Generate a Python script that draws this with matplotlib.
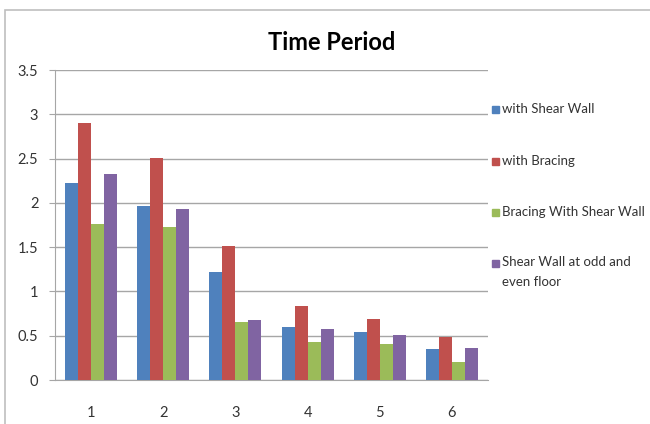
import numpy as np
import matplotlib
matplotlib.use("Agg")
from matplotlib import pyplot as plt
from matplotlib.patches import Rectangle

plt.rcParams['font.family'] = ['Lato', 'DejaVu Sans']

# data
categories = ["1", "2", "3", "4", "5", "6"]
shear_wall = [2.22, 1.97, 1.22, 0.60, 0.54, 0.35]
bracing = [2.90, 2.51, 1.51, 0.84, 0.69, 0.48]
bracing_shear = [1.76, 1.73, 0.66, 0.43, 0.41, 0.20]
odd_even = [2.33, 1.93, 0.68, 0.58, 0.51, 0.36]
series_labels = ["with Shear Wall", "with Bracing", "Bracing With Shear Wall",
                 "Shear Wall at odd and\neven floor"]
y_ticks = [0, 0.5, 1, 1.5, 2, 2.5, 3, 3.5]
y_tick_labels = ["0", "0.5", "1", "1.5", "2", "2.5", "3", "3.5"]

colors = ["#4F81BD", "#C0504D", "#9BBB59", "#8064A2"]
series = [shear_wall, bracing, bracing_shear, odd_even]

fig = plt.figure(figsize=(6.5, 4.24), dpi=100)
fig.patch.set_facecolor("white")

# outer chart frame (only left/top visible in reference)
fig.patches.append(Rectangle((5 / 650, -0.05), 1.0, 1 - 10 / 424 + 0.05,
                             transform=fig.transFigure, fill=False,
                             edgecolor="#BFBFBF", linewidth=1.2))

ax = fig.add_axes([55 / 650, 44 / 424, 433 / 650, 310 / 424])
x = np.arange(1, len(categories) + 1)
w = 0.18
for i, (vals, c) in enumerate(zip(series, colors)):
    ax.bar(x + (i - 1.5) * w, vals, width=w, color=c, zorder=3)

ax.set_xlim(0.5, 6.5)
ax.set_ylim(0, 3.5)
ax.set_yticks(y_ticks)
ax.set_yticklabels(y_tick_labels)
ax.set_xticks(x)
ax.set_xticklabels(categories)
ax.yaxis.grid(True, color="#A6A6A6", linewidth=1.0, zorder=0)
for s in ["top", "right"]:
    ax.spines[s].set_visible(False)
ax.spines["left"].set_color("#A6A6A6")
ax.spines["bottom"].set_color("#A6A6A6")
ax.tick_params(axis="y", length=4, color="#A6A6A6", labelsize=10.5,
               labelcolor="#333333", pad=8)
ax.tick_params(axis="x", length=0, labelsize=10.5, labelcolor="#333333", pad=19)

fig.text(332 / 650, 1 - 43 / 424, "Time Period", ha="center", va="center",
         fontsize=17, fontweight="bold", color="black")

# legend drawn by hand to match spacing
leg_y = [109, 161, 212, 263]
for lab, c, yy in zip(series_labels, colors, leg_y):
    fig.patches.append(Rectangle((492 / 650, 1 - (yy + 3.5) / 424), 7 / 650, 7 / 424,
                                 transform=fig.transFigure, color=c))
    if "\n" in lab:
        fig.text(502 / 650, 1 - (yy - 7.5) / 424, lab, ha="left", va="top",
                 fontsize=9.5, color="#333333", linespacing=1.85)
    else:
        fig.text(502 / 650, 1 - yy / 424, lab, ha="left", va="center",
                 fontsize=9.5, color="#333333")

fig.savefig("out.png", dpi=100)
